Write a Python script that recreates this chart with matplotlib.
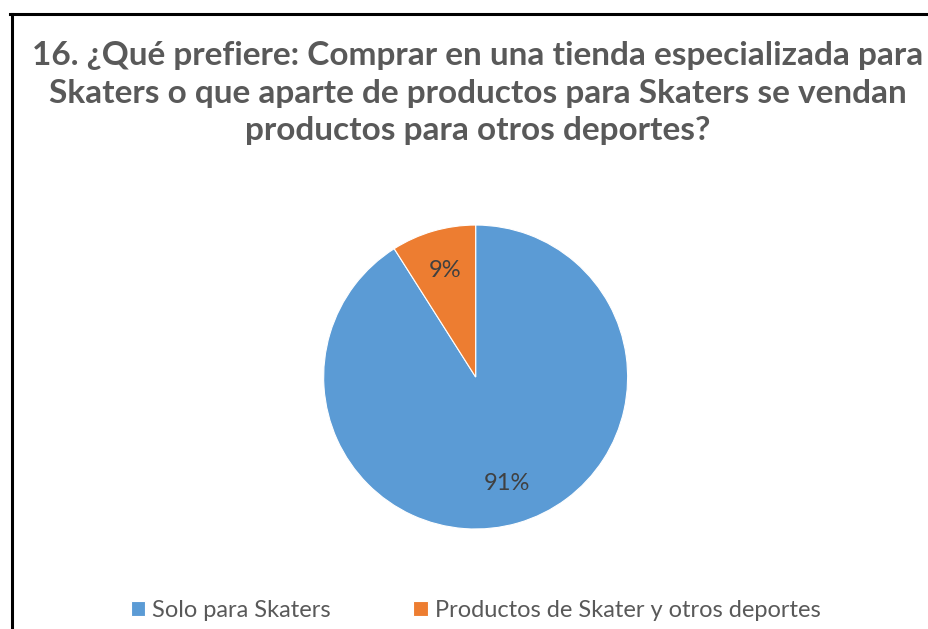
import matplotlib
matplotlib.use("Agg")
from matplotlib import pyplot as plt
from matplotlib.lines import Line2D

# data
labels = ["Solo para Skaters", "Productos de Skater y otros deportes"]
values = [91, 9]
colors = ["#5B9BD5", "#ED7D31"]
title = ("16. ¿Qué prefiere: Comprar en una tienda especializada para\n"
         "Skaters o que aparte de productos para Skaters se vendan\n"
         "productos para otros deportes?")

text_gray = "#595959"
plt.rcParams["font.family"] = ["Lato", "DejaVu Sans"]

fig = plt.figure(figsize=(9.29, 6.29), dpi=100)
fig.patch.set_facecolor("white")

# frame lines (chart is cropped at right and bottom)
fig.add_artist(Line2D([0.011, 1.0], [0.978, 0.978], color="black", lw=2.2,
                      transform=fig.transFigure))
fig.add_artist(Line2D([0.013, 0.013], [0.0, 0.978], color="black", lw=2.2,
                      transform=fig.transFigure))

fig.text(0.514, 0.935, title, ha="center", va="top", fontsize=24,
         fontweight="bold", color=text_gray, linespacing=1.36)

ax = fig.add_axes([0.512 - 0.1636, 0.4006 - 0.2417, 0.3272, 0.4834])
wedges, texts, autotexts = ax.pie(
    values, colors=colors, startangle=90, counterclock=False,
    autopct="%1.0f%%", pctdistance=0.73,
    textprops=dict(color="#404040", fontsize=17),
    wedgeprops=dict(edgecolor="white", linewidth=0.8),
)
ax.set_xlim(-1, 1)
ax.set_ylim(-1, 1)
ax.set_aspect("equal")

fig.legend(wedges, labels, loc="center", bbox_to_anchor=(0.512, 0.03),
           ncol=2, frameon=False, fontsize=17, labelcolor=text_gray,
           handlelength=0.6, handleheight=0.6, handletextpad=0.3,
           columnspacing=3.5)

fig.savefig("out.png", dpi=100)
plt.close(fig)
